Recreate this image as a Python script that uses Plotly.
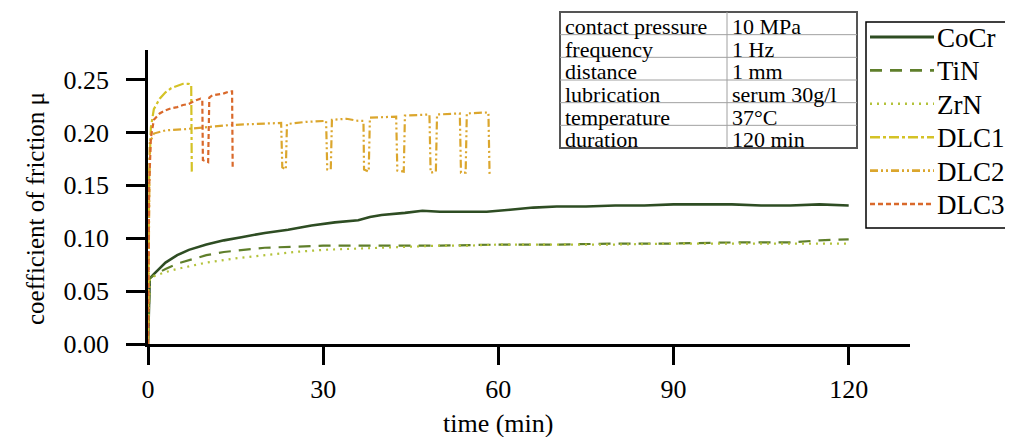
import plotly.graph_objects as go

# ---------------- data ----------------
t_cocr = [0, 0.3, 1, 2, 3, 5, 7, 10, 13, 16, 20, 24, 28, 32, 36, 38, 40, 44, 47, 50, 54, 58, 62, 66, 70,
          75, 80, 85, 90, 95, 100, 105, 110, 115, 118, 120]
mu_cocr = [0, 0.062, 0.066, 0.072, 0.077, 0.084, 0.089, 0.094, 0.098, 0.101, 0.105, 0.108, 0.112, 0.115,
           0.117, 0.120, 0.122, 0.124, 0.126, 0.125, 0.125, 0.125, 0.127, 0.129, 0.130,
           0.130, 0.131, 0.131, 0.132, 0.132, 0.132, 0.131, 0.131, 0.132, 0.131, 0.131]

t_tin = [0, 0.3, 1, 3, 5, 8, 10, 13, 16, 20, 25, 30, 40, 50, 60, 70, 80, 90, 100, 110, 115, 120]
mu_tin = [0, 0.062, 0.065, 0.071, 0.076, 0.081, 0.084, 0.087, 0.089, 0.091, 0.092, 0.093, 0.093, 0.093,
          0.094, 0.094, 0.095, 0.095, 0.096, 0.096, 0.098, 0.099]

t_zrn = [0, 0.3, 1, 3, 5, 8, 10, 15, 20, 25, 30, 35, 40, 45, 50, 55, 60, 70, 80, 90, 100, 110, 120]
mu_zrn = [0, 0.062, 0.064, 0.068, 0.071, 0.075, 0.077, 0.081, 0.084, 0.087, 0.089, 0.090, 0.091, 0.092,
          0.093, 0.093, 0.094, 0.094, 0.094, 0.095, 0.095, 0.095, 0.095]

t_dlc1 = [0, 0.2, 0.5, 1, 2, 3, 4, 5, 6, 7, 7.4, 7.5]
mu_dlc1 = [0, 0.16, 0.205, 0.222, 0.232, 0.238, 0.242, 0.244, 0.246, 0.246, 0.245, 0.163]

t_dlc2 = [0, 0.3, 1, 3, 6, 10, 14, 18, 22.8, 23.0, 23.6, 23.8, 27, 30.5, 30.7, 31.3, 31.5, 34, 36, 36.9,
          37.0, 37.8, 38.0, 42.5, 42.7, 43.8, 44.0, 48.2, 48.4, 49.3, 49.5, 53.4, 53.6, 54.4, 54.6, 58.3, 58.5]
mu_dlc2 = [0, 0.19, 0.199, 0.202, 0.203, 0.205, 0.207, 0.208, 0.209, 0.167, 0.165, 0.208, 0.210, 0.211,
           0.165, 0.165, 0.212, 0.213, 0.211, 0.211, 0.165, 0.163, 0.214, 0.215, 0.164, 0.163, 0.216,
           0.217, 0.162, 0.163, 0.217, 0.218, 0.162, 0.162, 0.218, 0.219, 0.160]

t_dlc3 = [0, 0.2, 0.5, 1, 2, 3, 4, 5, 6, 7, 8, 9, 9.3, 9.4, 10.3, 10.5, 11, 12, 13, 14, 14.4, 14.5]
mu_dlc3 = [0, 0.15, 0.195, 0.212, 0.218, 0.221, 0.223, 0.224, 0.226, 0.227, 0.230, 0.232, 0.231, 0.174,
           0.172, 0.233, 0.235, 0.236, 0.237, 0.239, 0.239, 0.167]

x_ticks = [0, 30, 60, 90, 120]
y_ticks = [0.00, 0.05, 0.10, 0.15, 0.20, 0.25]

table_params = ["contact pressure", "frequency", "distance", "lubrication", "temperature", "duration"]
table_values = ["10 MPa", "1 Hz", "1 mm", "serum 30g/l", "37°C", "120 min"]

series = [
    ("CoCr", t_cocr, mu_cocr, "#2e4d23", "solid", 2.6),
    ("TiN", t_tin, mu_tin, "#5f7f2b", "12px,8px", 2.2),
    ("ZrN", t_zrn, mu_zrn, "#b3c23a", "2px,5px", 2.2),
    ("DLC1", t_dlc1, mu_dlc1, "#d4c226", "10px,3px,3px,3px", 2.2),
    ("DLC2", t_dlc2, mu_dlc2, "#dba62d", "8px,3px,2px,3px,2px,3px", 2.2),
    ("DLC3", t_dlc3, mu_dlc3, "#d9692b", "5px,3px", 2.2),
]

FONT = "Liberation Serif"

fig = go.Figure()
for name, t, mu, col, dash, w in series:
    fig.add_trace(go.Scatter(x=t, y=mu, mode="lines", name=name, showlegend=False,
                             line=dict(color=col, dash=dash, width=w)))

# geometry measured in screenshot pixels; page body adds an 8 px margin
OFF = 8
W, H = 1013 - OFF, 437 - OFF
L, R, T, B = 148, 910, 50, 344          # plot area (screenshot px)
pw, ph = R - L, B - T


def px(xp):
    return (xp - L) / pw


def py(yp):
    return (B - yp) / ph


fig.update_layout(
    width=W, height=H,
    margin=dict(l=L - OFF, r=W - (R - OFF), t=T - OFF, b=H - (B - OFF), pad=0, autoexpand=False),
    paper_bgcolor="white", plot_bgcolor="white",
    font=dict(family=FONT, size=26, color="black"),
    showlegend=False,
)

fig.update_xaxes(range=[0, 130.5], tickvals=x_ticks, ticktext=[str(v) for v in x_ticks],
                 showline=True, linecolor="black", linewidth=2.5,
                 ticks="outside", ticklen=18, tickwidth=2.5, tickcolor="black",
                 showgrid=False, zeroline=False, tickfont=dict(size=26), ticklabelstandoff=2)
fig.update_yaxes(range=[0, 0.278], tickvals=y_ticks, ticktext=[f"{v:.2f}" for v in y_ticks],
                 showline=True, linecolor="black", linewidth=2.5,
                 ticks="outside", ticklen=19, tickwidth=2.5, tickcolor="black",
                 showgrid=False, zeroline=False, tickfont=dict(size=26), ticklabelstandoff=12)

# axis titles
fig.add_annotation(text="time (min)", xref="x", x=60, yref="paper", y=py(423),
                   showarrow=False, font=dict(size=26), xanchor="center", yanchor="middle")
fig.add_annotation(text="coefficient of friction μ", xref="paper", x=px(35), yref="paper", y=py(209),
                   showarrow=False, font=dict(size=25), textangle=-90, xanchor="center", yanchor="middle")

# legend box (drawn so that row spacing matches the original)
lx0, lx1, ly0, ly1 = 866, 1010, 22, 228
row0, drow = 37, 33.4
fig.add_shape(type="rect", xref="paper", yref="paper", x0=px(lx0), x1=px(lx1), y0=py(ly1), y1=py(ly0),
              fillcolor="white", line=dict(color="black", width=1.5), layer="above")
for i, (name, t, mu, col, dash, w) in enumerate(series):
    yy = row0 + i * drow
    fig.add_shape(type="line", xref="paper", yref="paper", x0=px(870), x1=px(934), y0=py(yy), y1=py(yy),
                  line=dict(color=col, dash=dash, width=w + 0.4), layer="above")
    fig.add_annotation(text=name, xref="paper", x=px(936), yref="paper", y=py(yy + 1), showarrow=False,
                       xanchor="left", yanchor="middle", font=dict(size=27), borderpad=0)

# parameter table
tx0, tx1, tcol = 560, 857, 727
ty0, ty1 = 12, 148
rows = len(table_params)
rh = (ty1 - ty0) / rows
fig.add_shape(type="rect", xref="paper", yref="paper", x0=px(tx0), x1=px(tx1), y0=py(ty1), y1=py(ty0),
              fillcolor="white", line=dict(color="#555555", width=2), layer="below")
for i in range(1, rows):
    yy = ty0 + i * rh
    fig.add_shape(type="line", xref="paper", yref="paper", x0=px(tx0), x1=px(tx1), y0=py(yy), y1=py(yy),
                  line=dict(color="#a0a0a0", width=1), layer="below")
fig.add_shape(type="line", xref="paper", yref="paper", x0=px(tcol), x1=px(tcol), y0=py(ty0), y1=py(ty1),
              line=dict(color="#a0a0a0", width=1), layer="below")
for i, (p, v) in enumerate(zip(table_params, table_values)):
    yc = ty0 + (i + 0.5) * rh + 3
    fig.add_annotation(text=p, xref="paper", x=px(tx0 + 4), yref="paper", y=py(yc), showarrow=False,
                       xanchor="left", yanchor="middle", font=dict(size=22), borderpad=0)
    fig.add_annotation(text=v, xref="paper", x=px(tcol + 4), yref="paper", y=py(yc), showarrow=False,
                       xanchor="left", yanchor="middle", font=dict(size=22), borderpad=0)

fig.write_html("out.html")
